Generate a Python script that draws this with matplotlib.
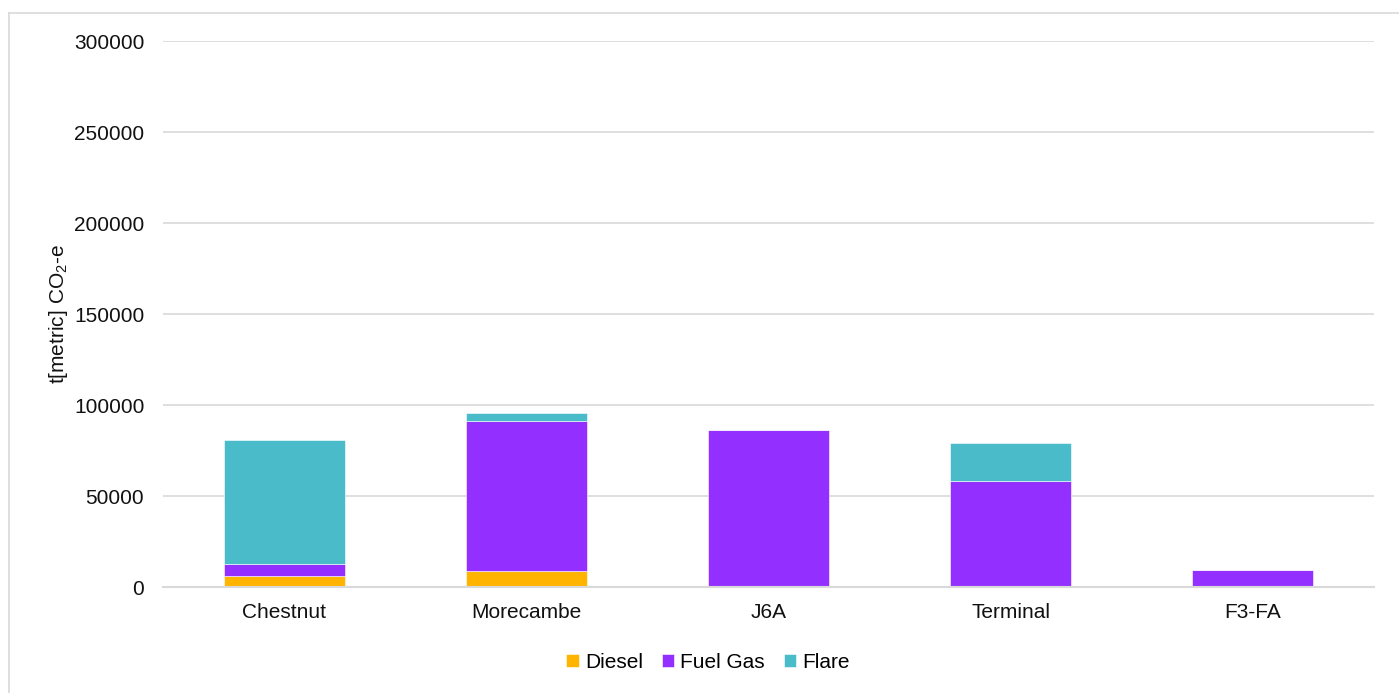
import matplotlib
matplotlib.use("Agg")
import matplotlib.pyplot as plt
from matplotlib.lines import Line2D
import numpy as np

plt.rcParams['font.family'] = ['Liberation Sans', 'DejaVu Sans']
plt.rcParams['mathtext.fontset'] = 'custom'
plt.rcParams['mathtext.rm'] = 'Liberation Sans'
plt.rcParams['mathtext.it'] = 'Liberation Sans'

categories = ["Chestnut", "Morecambe", "J6A", "Terminal", "F3-FA"]
diesel = [6000, 8800, 400, 200, 100]
fuel_gas = [6800, 82700, 86200, 58000, 9300]
flare = [68300, 4300, 0, 21000, 0]
series_names = ["Diesel", "Fuel Gas", "Flare"]
colors = ["#FFB400", "#9330FF", "#49BBC9"]
yticks = [0, 50000, 100000, 150000, 200000, 250000, 300000]

W, H = 1399, 693
fig = plt.figure(figsize=(W / 100, H / 100), dpi=100)
ax = fig.add_axes([163 / W, 1 - 587.3 / H, (1374 - 163) / W, (587.3 - 41.3) / H])

x = np.arange(len(categories))
bottom = np.zeros(len(categories))
handles = []
for vals, name, c in zip([diesel, fuel_gas, flare], series_names, colors):
    b = ax.bar(x, vals, 0.5, bottom=bottom, color=c, edgecolor="white",
               linewidth=0.4, label=name, zorder=3)
    handles.append(b)
    bottom += np.array(vals)

ax.set_xlim(-0.5, len(categories) - 0.5)
ax.set_ylim(0, 300000)
ax.set_yticks(yticks)
ax.set_yticklabels([str(v) for v in yticks])
ax.set_xticks(x)
ax.set_xticklabels(categories)
ax.grid(axis="y", color="#D9D9D9", linewidth=1.2, zorder=0)
ax.set_axisbelow(True)
for s in ["top", "right", "left"]:
    ax.spines[s].set_visible(False)
ax.spines["bottom"].set_color("#D9D9D9")
ax.spines["bottom"].set_linewidth(1.5)
ax.spines["bottom"].set_zorder(4)
ax.tick_params(axis="y", length=0, pad=13.5, labelsize=15, labelcolor="#111111")
ax.tick_params(axis="x", length=0, pad=11, labelsize=15, labelcolor="#111111")
ax.set_ylabel("t[metric] CO$_2$-e", fontsize=15, labelpad=3, color="#111111")

fig.legend(handles=handles, labels=series_names, loc="center",
           bbox_to_anchor=(708 / W, 1 - 662 / H), ncol=3, frameon=False,
           fontsize=15, handlelength=0.6, handleheight=0.6,
           handletextpad=0.3, columnspacing=0.9)

# outer chart border (left and top)
fig.add_artist(Line2D([8.5 / W, 8.5 / W], [0, 1 - 12.5 / H], transform=fig.transFigure,
                      color="#D9D9D9", linewidth=1.2))
fig.add_artist(Line2D([8.5 / W, 1], [1 - 12.5 / H, 1 - 12.5 / H], transform=fig.transFigure,
                      color="#D9D9D9", linewidth=1.2))

fig.savefig("out.png", dpi=100)
